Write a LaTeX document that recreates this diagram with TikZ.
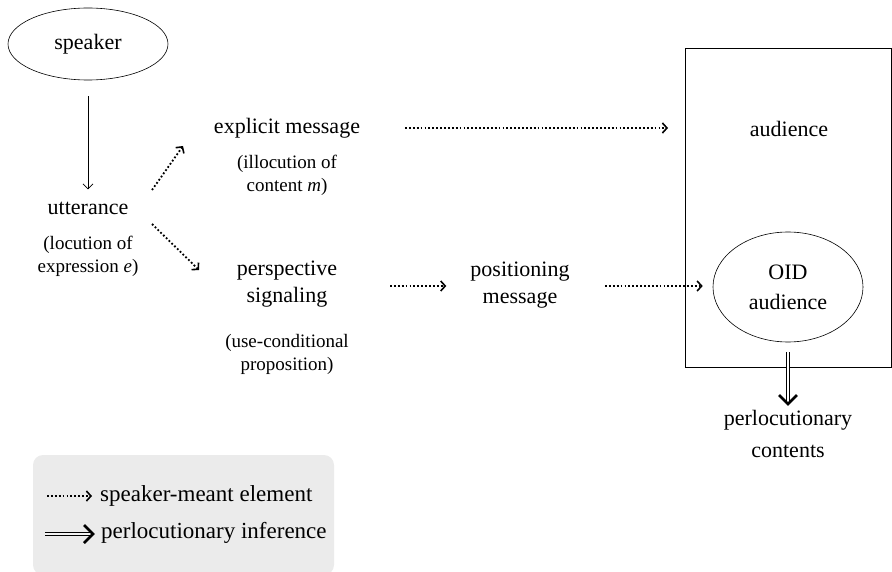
\documentclass[tikz,border=0pt]{standalone}
\usepackage{fontspec}
\setmainfont{Liberation Serif}
\usetikzlibrary{shapes.geometric,arrows.meta,calc}
\definecolor{legendgray}{RGB}{235,235,235}
\tikzset{
  lbl/.style={font=\fontsize{22}{27}\selectfont, align=center, inner sep=0pt},
  sub/.style={font=\fontsize{19}{23}\selectfont, align=center, inner sep=0pt},
  solidarr/.style={line width=0.6pt, -{Straight Barb[length=5pt,width=10pt,line width=0.8pt]}},
  dotarr/.style={line width=1.8pt, dash pattern=on 1.8pt off 2.1pt, -{Straight Barb[length=4.5pt,width=10pt,line width=1.6pt]}},
  dblline/.style={double, double distance=2.6pt, line width=0.8pt},
  chevron/.style={line width=2.6pt, line join=miter},
}
\begin{document}
\begin{tikzpicture}[x=1pt,y=-1pt]
\useasboundingbox (0,0) rectangle (892,572);
% legend
\fill[legendgray, rounded corners=10pt] (33,455) rectangle (334,575);
% nodes
\node[ellipse, draw, line width=0.6pt, minimum width=160, minimum height=72, lbl] (speaker) at (88,44) {speaker};
\node[lbl] (utt) at (88,208) {utterance};
\node[sub] (uttsub) at (88,256) {(locution of\\expression \textit{e})};
\node[lbl] (expl) at (287,128) {explicit message};
\node[sub] (explsub) at (287,175) {(illocution of\\content \textit{m})};
\node[lbl] (persp) at (287,284) {perspective\\signaling};
\node[sub] (perspsub) at (287,354) {(use-conditional\\proposition)};
\node[lbl] (pos) at (520,285) {positioning\\message};
\node[draw, line width=0.8pt, minimum width=206, minimum height=319, inner sep=0pt] (aud) at (788,207.5) {};
\node[lbl] (audlbl) at (789,129) {audience};
\node[ellipse, draw, line width=0.6pt, minimum width=150, minimum height=110, lbl] (oid) at (788,287) {OID\\[3pt]audience};
\node[lbl, font=\fontsize{22}{32}\selectfont] (perl) at (788,434) {perlocutionary\\contents};
% free ends
\coordinate (u1) at (152,190);
\coordinate (e1) at (183,146);
\coordinate (u2) at (152,224);
\coordinate (p2) at (199,270);
\coordinate (e2) at (405,128);
\coordinate (a2) at (668,128);
\coordinate (s3) at (390,286);
\coordinate (s4) at (605,286);
\coordinate (ptip) at ([yshift=6pt]perl.north);
% connectors
\draw[solidarr] ([yshift=-16pt]speaker.south) -- ([yshift=12pt]utt.north);
\draw[dotarr] (u1) -- (e1);
\draw[dotarr] (u2) -- (p2);
\draw[dotarr] (e2) -- (a2);
\draw[dotarr] (s3) -- ([xshift=-24pt]pos.west |- s3);
\draw[dotarr] (s4) -- ([xshift=-10pt]oid.west |- s4);
\draw[dblline] ([yshift=-10pt]oid.south) -- ($(ptip)+(0,-3)$);
\draw[chevron] ($(ptip)+(-9,-9)$) -- (ptip) -- ($(ptip)+(9,-9)$);
% legend items
\coordinate (l1a) at (47,496);
\coordinate (l1b) at (92,496);
\coordinate (l2a) at (45,534);
\coordinate (l2b) at (93,534);
\draw[dotarr] (l1a) -- (l1b);
\draw[dblline, double=legendgray!60!white] (l2a) -- ($(l2b)+(-3,0)$);
\draw[chevron] ($(l2b)+(-9,-9)$) -- (l2b) -- ($(l2b)+(-9,9)$);
\node[lbl, font=\fontsize{23}{27}\selectfont, anchor=west] (leg1) at (100,496) {speaker-meant element};
\node[lbl, font=\fontsize{23}{27}\selectfont, anchor=west] (leg2) at (101,533) {perlocutionary inference};
\end{tikzpicture}
\end{document}
